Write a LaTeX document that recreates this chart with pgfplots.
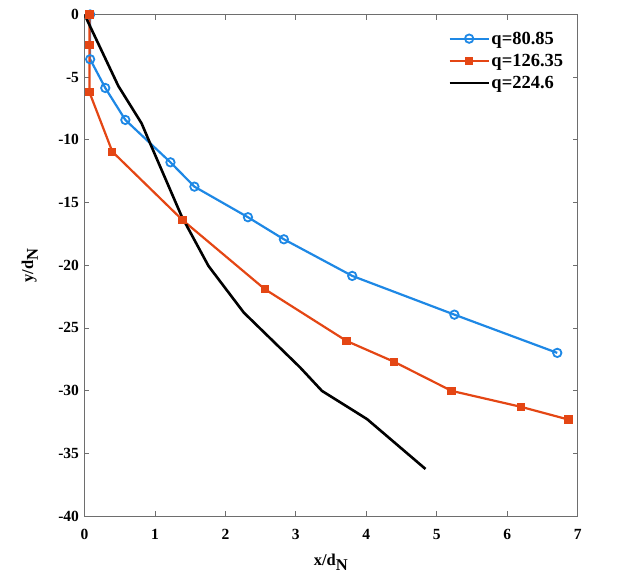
\documentclass[border=0pt]{standalone}
\usepackage{fontspec}
\setmainfont{Liberation Serif}
\usepackage{pgfplots}
\pgfplotsset{compat=1.18}
\definecolor{qblue}{RGB}{30,136,229}
\definecolor{qred}{RGB}{228,70,20}
\definecolor{framegray}{RGB}{110,110,110}
\begin{document}
\begin{tikzpicture}
\path[use as bounding box] (-84.5bp,-69bp) rectangle (555.5bp,516bp);
\begin{axis}[
  scale only axis, width=493.2bp, height=501.5bp,
  xmin=0, xmax=7, ymin=-40, ymax=0,
  xtick={0,1,...,7}, ytick={-40,-35,...,0},
  tick align=inside, major tick length=5bp,
  axis line style={framegray, line width=0.8bp},
  every tick/.style={framegray, line width=0.8bp},
  tick label style={font=\fontsize{15.5bp}{17bp}\selectfont\bfseries},
  /pgf/number format/assume math mode=true,
  xticklabel style={yshift=-10bp},
  yticklabel style={xshift=-2bp},
  xlabel={\textbf{x/d}$_{\textbf{N}}$},
  ylabel={\textbf{y/d}$_{\textbf{N}}$},
  label style={font=\fontsize{16.5bp}{18bp}\selectfont\bfseries},
  xlabel style={at={(axis description cs:0.5,0)}, anchor=north, yshift=-35bp},
  ylabel style={at={(axis description cs:0,0.5)}, anchor=south, yshift=43bp},
  legend style={draw=none, fill=none, at={(0.974,0.969)}, anchor=north east,
    font=\fontsize{18.5bp}{20bp}\selectfont\bfseries, inner sep=0pt,
    row sep=5.5bp, nodes={inner sep=1.5bp}},
  legend cell align=left,
  legend image code/.code={\draw[mark repeat=2,mark phase=2] plot coordinates {(0bp,0bp)(19.5bp,0bp)(39bp,0bp)};},
]
\addplot[qblue, line width=2.2bp, mark=o, mark size=4.2bp, mark options={fill=white, line width=1.8bp}] coordinates {
(0.08,0) (0.08,-3.57) (0.295,-5.86) (0.58,-8.41) (1.22,-11.79) (1.56,-13.73) (2.32,-16.17) (2.83,-17.93) (3.80,-20.85) (5.25,-23.94) (6.71,-26.99)};
\addlegendentry{q=80.85}
\addplot[qred, line width=2.2bp, mark=square*, mark size=3.6bp, mark options={line width=1pt}] coordinates {
(0.07,0) (0.07,-2.43) (0.07,-6.2) (0.395,-10.94) (1.39,-16.39) (2.56,-21.91) (3.72,-26.04) (4.39,-27.69) (5.21,-30.02) (6.20,-31.30) (6.87,-32.31)};
\addlegendentry{q=126.35}
\addplot[black, line width=2.6bp] coordinates {
(0,0) (0.48,-5.70) (0.81,-8.68) (0.93,-10.26) (1.38,-16.11) (1.76,-20.06) (2.26,-23.77) (3.06,-28.15) (3.37,-30.02) (4.01,-32.27) (4.84,-36.25)};
\addlegendentry{q=224.6}
\end{axis}
\end{tikzpicture}
\end{document}
